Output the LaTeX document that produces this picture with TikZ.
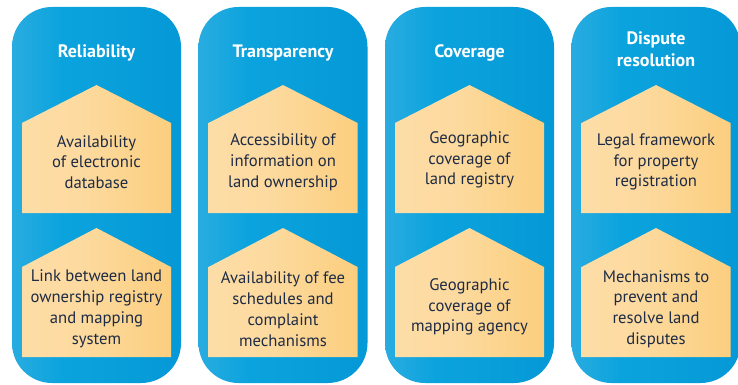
\documentclass[tikz,border=0pt]{standalone}
\usepackage{fontspec}
\setmainfont{PT Sans}
\begin{document}
\begin{tikzpicture}[x=0.75pt,y=-0.75pt,
  colbox/.style={inner sep=0pt, outer sep=0pt},
  titletext/.style={text=white, font=\bfseries\fontsize{13.5}{16.5}\selectfont, align=center},
  bodytext/.style={text=txtcol, font=\fontsize{12.5}{15.6}\selectfont, align=center}]
\definecolor{txtcol}{HTML}{1E2B45}
\definecolor{blueL}{HTML}{5ABBE6}
\definecolor{blueM}{HTML}{0BA3DD}
\definecolor{blueR}{HTML}{0092D2}
\definecolor{pentL}{HTML}{FDE1B2}
\definecolor{pentR}{HTML}{FBC564}
\pgfdeclarehorizontalshading{blueshade}{100bp}{color(0bp)=(blueL); color(40bp)=(blueM); color(100bp)=(blueR)}
\pgfdeclarehorizontalshading{pentshade}{100bp}{color(0bp)=(pentL); color(45bp)=(pentL!75!pentR); color(100bp)=(pentR)}
\useasboundingbox (0,0) rectangle (738,385);
\fill[white] (0,0) rectangle (738,385);
\foreach \i/\t/\ty/\a/\ay/\b/\by in {
  0/{Reliability}/53/{Availability\\of electronic\\database}/162/{Link between land\\ownership registry\\and mapping\\system}/309,
  1/{Transparency}/53/{Accessibility of\\information on\\land ownership}/162/{Availability of fee\\schedules and\\complaint\\mechanisms}/309,
  2/{Coverage}/53/{Geographic\\coverage of\\land registry}/160/{Geographic\\coverage of\\mapping agency}/307,
  3/{Dispute\\resolution}/49/{Legal framework\\for property\\registration}/162/{Mechanisms to\\prevent and\\resolve land\\disputes}/309}
{
  \pgfmathsetmacro{\xa}{12+186.5*\i}
  \pgfmathsetmacro{\xb}{\xa+169}
  \pgfmathsetmacro{\cx}{\xa+84.5}
  \shade[shading=blueshade, rounded corners=30] (\xa,7) rectangle (\xb,383);
  \node[colbox] (col\i) at (\cx,195) {};
  \node[titletext] (title\i) at (\cx,\ty) {\t};
  \shade[shading=pentshade] (\cx,85) -- (\cx+74.5,123) -- (\cx+74.5,213) -- (\cx-74.5,213) -- (\cx-74.5,123) -- cycle;
  \node[bodytext] (top\i) at (\cx,\ay) {\a};
  \shade[shading=pentshade] (\cx,228) -- (\cx+74.5,267) -- (\cx+74.5,357) -- (\cx-74.5,357) -- (\cx-74.5,267) -- cycle;
  \node[bodytext] (bot\i) at (\cx,\by) {\b};
}
\end{tikzpicture}
\end{document}
